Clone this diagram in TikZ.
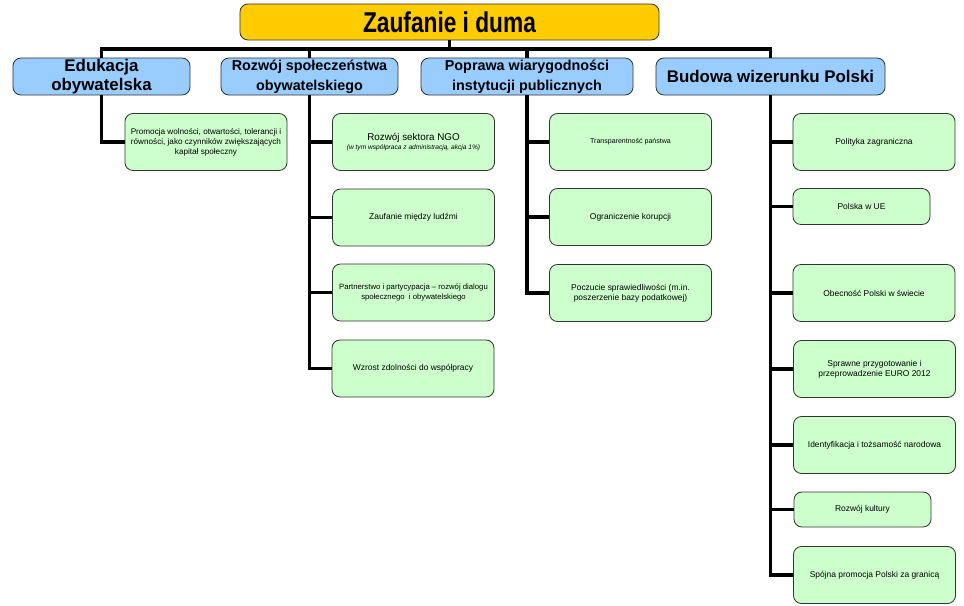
\documentclass[tikz,border=0pt]{standalone}
\usepackage{fontspec}
\setmainfont{Liberation Sans}
\definecolor{topfill}{HTML}{FFCC00}
\definecolor{headfill}{HTML}{99CCFF}
\definecolor{leaffill}{HTML}{CCFFCC}
\definecolor{boxline}{HTML}{333333}
\begin{document}
\begin{tikzpicture}[x=0.025cm,y=-0.025cm,
  boxbase/.style={draw=boxline, line width=0.6pt, rounded corners=0.2cm, align=center, inner sep=1pt},
  topbox/.style={boxbase, fill=topfill, minimum width=10.475cm, minimum height=0.9cm, font=\bfseries\fontsize{17}{20}\selectfont},
  headbox/.style={boxbase, fill=headfill, minimum height=0.925cm, inner sep=0pt, font=\bfseries\fontsize{10.2}{14}\selectfont},
  leafbox/.style={boxbase, fill=leaffill, minimum width=4.05cm, minimum height=1.425cm, font=\fontsize{6}{7}\selectfont},
  shortleaf/.style={leafbox, minimum width=3.425cm, minimum height=0.9cm},
  conn/.style={line width=2.8pt}]
\useasboundingbox (0,0) rectangle (964,605);
%top
\node[topbox] (top) at (449.5,22) {\scalebox{0.95}[1.2]{Zaufanie i duma}};
%heads
\node[headbox, minimum width=4.425cm, font=\bfseries\fontsize{12}{14}\selectfont] (edu) at (101.5,76.5) {Edukacja\\obywatelska};
\node[headbox, minimum width=4.425cm] (roz) at (309.5,76.5) {Rozwój społeczeństwa\\obywatelskiego};
\node[headbox, minimum width=5.3cm] (pop) at (527,76.5) {Poprawa wiarygodności\\instytucji publicznych};
\node[headbox, minimum width=5.725cm, font=\bfseries\fontsize{12}{14}\selectfont] (bud) at (770.5,76.5) {Budowa wizerunku Polski};
%leaves
\node[leafbox, font=\fontsize{5.8}{7}\selectfont] (prom) at (206,142) {Promocja wolności, otwartości, tolerancji i\\równości, jako czynników zwiększających\\kapitał społeczny};
\node[leafbox] (ngo) at (413.5,142) {{\fontsize{7}{9}\selectfont Rozwój sektora NGO}\\{\itshape\fontsize{4.7}{6}\selectfont (w tym współpraca z administracją, akcja 1\%)}};
\node[leafbox] (zauf) at (413.5,217.5) {Zaufanie między ludźmi};
\node[leafbox, font=\fontsize{5.5}{7}\selectfont] (part) at (413.5,292.5) {Partnerstwo i partycypacja – rozwój dialogu\\społecznego~ i obywatelskiego};
\node[leafbox] (wzr) at (413,368.5) {Wzrost zdolności do współpracy};
\node[leafbox, font=\fontsize{5}{6}\selectfont] (trans) at (630.5,142) {Transparentność państwa};
\node[leafbox] (ogr) at (630.5,217) {Ograniczenie korupcji};
\node[leafbox] (pocz) at (630.5,293) {Poczucie sprawiedliwości (m.in.\\poszerzenie bazy podatkowej)};
\node[leafbox] (pol) at (874,142) {Polityka zagraniczna};
\node[shortleaf] (ue) at (861.5,206.5) {Polska w UE};
\node[leafbox] (obec) at (874,293) {Obecność Polski w świecie};
\node[leafbox] (spr) at (874.5,369) {Sprawne przygotowanie i\\przeprowadzenie EURO 2012};
\node[leafbox] (ident) at (874.5,445) {Identyfikacja i tożsamość narodowa};
\node[shortleaf, minimum height=0.875cm] (kult) at (862.5,509.5) {Rozwój kultury};
\node[leafbox] (spoj) at (874.5,575) {Spójna promocja Polski za granicą};
%edge top
\foreach \h in {edu,roz,pop,bud}
  \draw[conn] (top.south) -- ++(0,9) -| (\h.north);
%edge leaves
\draw[conn] (edu.south) |- (prom.west);
\foreach \l in {ngo,zauf,part,wzr}
  \draw[conn] (roz.south) |- (\l.west);
\foreach \l in {trans,ogr,pocz}
  \draw[conn] (pop.south) |- (\l.west);
\foreach \l in {pol,ue,obec,spr,ident,kult,spoj}
  \draw[conn] (bud.south) |- (\l.west);
\end{tikzpicture}
\end{document}
